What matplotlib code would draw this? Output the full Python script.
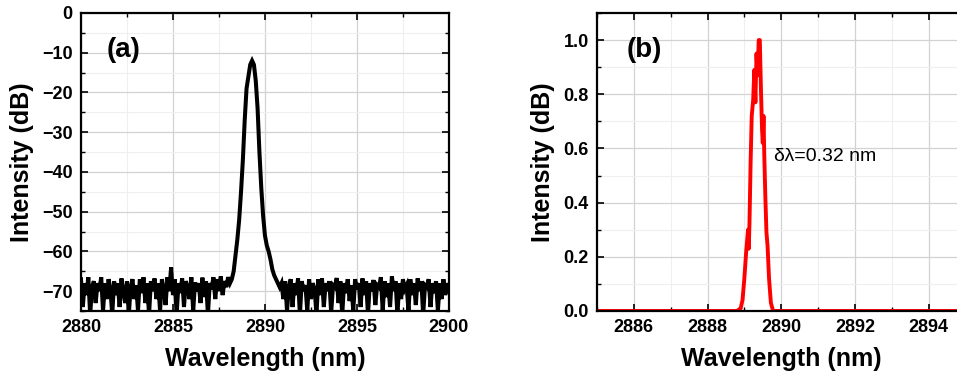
import numpy as np
import matplotlib
matplotlib.use("Agg")
import matplotlib.pyplot as plt
from matplotlib.ticker import MultipleLocator

plt.rcParams['font.family'] = ['Liberation Sans', 'DejaVu Sans']

# panel (a): log spectrum, noise floor left of peak, the peak, noise floor right
left_noise = [
    -67, -74, -68, -71, -66.5, -76, -69, -67.5, -73, -68,
    -70, -66.5, -75, -68, -72, -67, -69.5, -76, -67.5, -71,
    -68, -74, -66.8, -70, -73, -67.5, -76, -69, -67, -72,
    -68.5, -75, -67, -70.5, -66.5, -73, -68, -76, -67.5, -70,
    -66.8, -72, -68, -75, -67, -69.5, -73.5, -66.5, -70, -64,
    -71, -67, -76, -68, -70.5, -66.8, -74, -67.5, -69, -72,
    -66.5, -75, -67.8, -70, -68, -73, -66.6, -71.5, -67.5, -76,
    -68, -69.5, -66.5, -72, -67, -70, -66.3, -71, -67.5, -69,
    -66.5, -68, -67,
]
peak_x = [2888.3, 2888.4, 2888.5, 2888.6, 2888.7, 2888.8, 2888.9, 2889.0, 2889.1,
          2889.2, 2889.3, 2889.4, 2889.5, 2889.6, 2889.7, 2889.8, 2889.9, 2890.0,
          2890.1, 2890.2, 2890.3, 2890.4, 2890.5, 2890.6, 2890.7, 2890.8]
peak_y = [-65, -61, -57, -52, -45, -37, -27, -19, -16, -13, -12, -13, -17, -24,
          -35, -44, -51, -56, -58.5, -60, -62, -64.5, -66, -67, -68, -69]
right_noise = [
    -68, -72, -67.5, -75, -69, -67, -74, -68, -71, -66.8,
    -76, -67.5, -70, -68.5, -75, -67, -72, -68, -69.5, -76,
    -67, -71, -66.8, -74, -68, -70, -67.5, -75.5, -68.5, -69,
    -66.7, -73, -67.5, -76, -68, -70.5, -67, -72.5, -68.5, -75,
    -67, -69.5, -68, -74, -66.8, -71, -67.5, -76, -68, -70,
    -67.2, -73.5, -68.5, -69, -66.5, -75, -67.5, -71.5, -68, -74,
    -66.3, -70, -67.5, -76, -68, -72, -67, -69.5, -68.5, -75,
    -67, -71, -68, -73.5, -66.8, -70, -67.5, -76, -68.5, -69,
    -67, -74, -68, -70.5, -67.5, -75, -68, -72, -67, -71, -68, -70,
]

# panel (b): normalised linear spectrum
b_x = [2885, 2888.8, 2888.9, 2888.95, 2889.0, 2889.05, 2889.1, 2889.12, 2889.14,
       2889.17, 2889.2, 2889.24, 2889.27, 2889.3, 2889.33, 2889.36, 2889.39,
       2889.42, 2889.45, 2889.48, 2889.5, 2889.52, 2889.54, 2889.57, 2889.6,
       2889.63, 2889.67, 2889.72, 2889.78, 2895]
b_y = [0, 0, 0.01, 0.04, 0.12, 0.22, 0.3, 0.23, 0.33, 0.55, 0.72, 0.78, 0.89,
       0.77, 0.95, 0.87, 1.0, 1.0, 0.82, 0.67, 0.62, 0.72, 0.58, 0.42, 0.29,
       0.24, 0.12, 0.03, 0, 0]

a_x = np.concatenate([np.linspace(2880, 2888.2, len(left_noise)), peak_x,
                      np.linspace(2890.9, 2900, len(right_noise))])
a_y = np.concatenate([left_noise, peak_y, right_noise])


def style_axes(ax):
    ax.tick_params(which='both', direction='in', top=True, right=True)
    ax.tick_params(which='major', length=5, width=1.2, labelsize=13, pad=6)
    ax.tick_params(which='minor', length=3, width=1)
    for lab in ax.get_xticklabels() + ax.get_yticklabels():
        lab.set_fontweight('bold')
    for s in ax.spines.values():
        s.set_linewidth(1.6)
    ax.grid(which='major', color='#d2d2d2', linewidth=0.9)
    ax.grid(which='minor', color='#efefef', linewidth=0.8)
    ax.set_axisbelow(True)
    ax.set_xlabel('Wavelength (nm)', fontsize=18, fontweight='bold', labelpad=8)
    ax.set_ylabel('Intensity (dB)', fontsize=18, fontweight='bold', labelpad=6)


fig = plt.figure(figsize=(9.57, 3.75), dpi=100)

ax1 = fig.add_axes([0.0846, 0.1707, 0.3845, 0.7947])
ax1.plot(a_x, a_y, color='black', linewidth=2.9, solid_joinstyle='miter')
ax1.set_xlim(2880, 2900)
ax1.set_ylim(-75, 0)
ax1.xaxis.set_major_locator(MultipleLocator(5))
ax1.xaxis.set_minor_locator(MultipleLocator(2.5))
ax1.yaxis.set_major_locator(MultipleLocator(10))
ax1.yaxis.set_minor_locator(MultipleLocator(5))
style_axes(ax1)
ax1.text(0.07, 0.875, '(a)', transform=ax1.transAxes, fontsize=20,
         fontweight='bold', va='center')

ax2 = fig.add_axes([0.6238, 0.1707, 0.385, 0.7947])
ax2.plot(b_x, b_y, color='#ff0000', linewidth=2.8)
ax2.set_xlim(2885, 2895)
ax2.set_ylim(0, 1.1)
ax2.xaxis.set_major_locator(MultipleLocator(2))
ax2.xaxis.set_minor_locator(MultipleLocator(1))
ax2.yaxis.set_major_locator(MultipleLocator(0.2))
ax2.yaxis.set_minor_locator(MultipleLocator(0.1))
ax2.yaxis.set_major_formatter(matplotlib.ticker.FormatStrFormatter('%.1f'))
style_axes(ax2)
ax2.text(0.08, 0.875, '(b)', transform=ax2.transAxes, fontsize=20,
         fontweight='bold', va='center')
ax2.text(2889.8, 0.57, 'δλ=0.32 nm', fontsize=14, va='center')

fig.savefig('out.png', dpi=100)
